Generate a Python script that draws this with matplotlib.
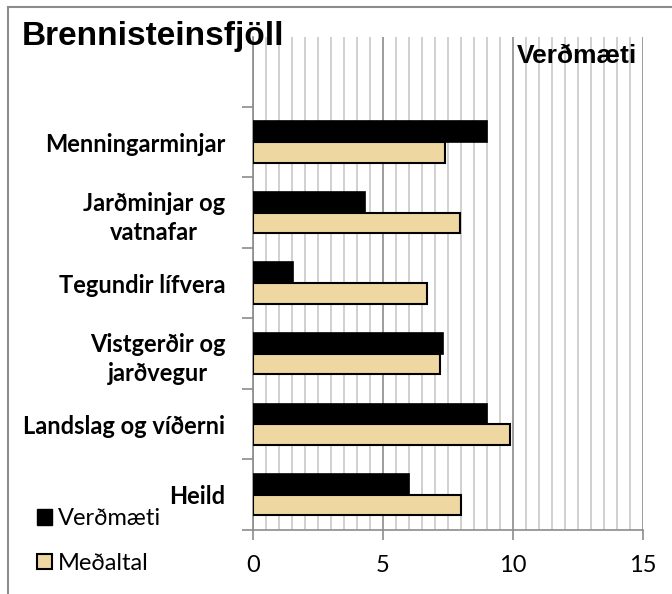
import matplotlib
matplotlib.use("Agg")
import matplotlib.pyplot as plt
from matplotlib.patches import Patch, Rectangle
import numpy as np

categories = ["Heild", "Landslag og víðerni", "Vistgerðir og\njarðvegur",
              "Tegundir lífvera", "Jarðminjar og\nvatnafar", "Menningarminjar"]
verdmaeti = [6.0, 9.0, 7.3, 1.55, 4.3, 9.0]
medaltal = [8.0, 9.9, 7.2, 6.7, 7.95, 7.4]
xticks = [0, 5, 10, 15]
series_names = ["Verðmæti", "Meðaltal"]
title = "Brennisteinsfjöll"
axis_title = "Verðmæti"

W, H = 672, 594
fig = plt.figure(figsize=(W / 100, H / 100), dpi=100)
ax = fig.add_axes([253 / W, (H - 530) / H, (643 - 253) / W, (530 - 37) / H])

y = np.arange(len(categories))
bh = 0.293
ax.barh(y + bh / 2, verdmaeti, height=bh, color="black", edgecolor="black", lw=1.2, zorder=3)
ax.barh(y - bh / 2, medaltal, height=bh, color="#EFD7A2", edgecolor="black", lw=1.5, zorder=3)

ax.set_xlim(0, 15)
ax.set_ylim(-0.5, 6.49)

ax.set_xticks(xticks)
ax.set_xticks(np.arange(0, 15.01, 0.5), minor=True)
ax.grid(axis="x", which="minor", color="#C8C8C8", lw=1.2, zorder=0)
ax.grid(axis="x", which="major", color="#8C8C8C", lw=1.2, zorder=1)
ax.tick_params(axis="x", which="minor", length=0)
ax.tick_params(axis="x", which="major", length=7, color="#8C8C8C", width=1.2,
               labelsize=17, pad=11)
for lab in ax.get_xticklabels():
    lab.set_fontfamily("Lato")

ax.set_yticks(y)
ax.set_yticklabels(categories, fontfamily="Lato", fontweight="bold", fontsize=17,
                   linespacing=1.35)
for lab in ax.get_yticklabels():
    lab.set_multialignment("center")
ax.tick_params(axis="y", which="major", length=0, pad=20)
ax.set_yticks(np.arange(-0.5, 5.6, 1.0), minor=True)
ax.tick_params(axis="y", which="minor", length=8, color="#8C8C8C", width=1.2)

for s in ["top", "right"]:
    ax.spines[s].set_visible(False)
for s in ["left", "bottom"]:
    ax.spines[s].set_color("#8C8C8C")
    ax.spines[s].set_linewidth(1.2)

fig.text(22 / W, 1 - 36 / H, title, fontfamily="Liberation Sans", fontweight="bold",
         fontsize=24, va="center", ha="left")
fig.text(637 / W, 1 - 56 / H, axis_title, fontfamily="Liberation Sans", fontweight="bold",
         fontsize=19, va="center", ha="right")

handles = [Patch(facecolor="black", edgecolor="black"),
           Patch(facecolor="#EFD7A2", edgecolor="black", lw=1.5)]
leg = fig.legend(handles, series_names, loc="center left",
                 bbox_to_anchor=(16 / W, 1 - 541 / H), frameon=False,
                 handlelength=0.62, handleheight=0.62, handletextpad=0.25,
                 labelspacing=1.0, prop={"family": "Lato", "size": 17})

fig.patches.append(Rectangle((8 / W, -0.1), 2, 1 - 7 / H + 0.1, transform=fig.transFigure,
                             fill=False, edgecolor="#8C8C8C", lw=1.5))

fig.savefig("out.png", dpi=100)
